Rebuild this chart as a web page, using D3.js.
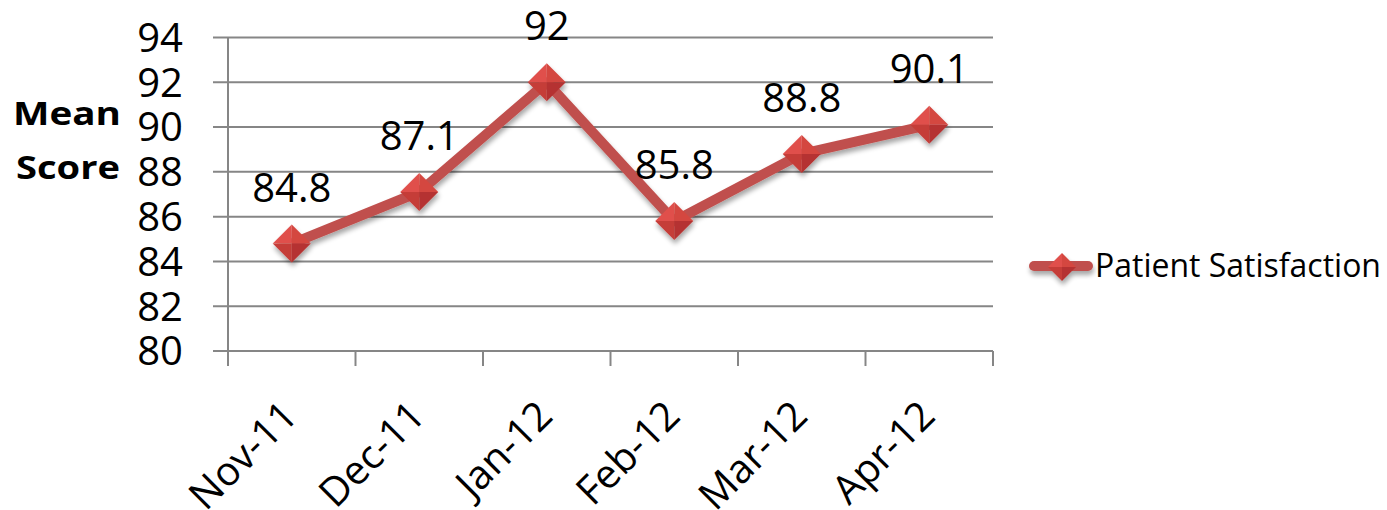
<!DOCTYPE html>
<html>
<head>
<meta charset="utf-8">
<title>Patient Satisfaction</title>
<script src="https://d3js.org/d3.v7.min.js"></script>
<style>
  body { margin: 0; background: #fff; }
  text { font-family: "Open Sans", sans-serif; fill: #000; }
</style>
</head>
<body>
<svg id="chart" width="1387" height="510"></svg>
<script>
// chart data
var months = ["Nov-11", "Dec-11", "Jan-12", "Feb-12", "Mar-12", "Apr-12"];
var scores = [84.8, 87.1, 92, 85.8, 88.8, 90.1];
var yTicks = [80, 82, 84, 86, 88, 90, 92, 94];
var seriesName = "Patient Satisfaction";

var svg = d3.select("#chart");
var gridColor = "#868686";
var lineColor = "#c0504d";

var x = d3.scaleBand().domain(months).range([228, 993]);
var y = d3.scaleLinear().domain([80, 94]).range([351, 37.5]);

// shadow filter for line + markers
var defs = svg.append("defs");
var f = defs.append("filter").attr("id", "shadow")
  .attr("x", "-20%").attr("y", "-20%").attr("width", "140%").attr("height", "160%");
f.append("feGaussianBlur").attr("in", "SourceAlpha").attr("stdDeviation", 2.5).attr("result", "b");
f.append("feOffset").attr("in", "b").attr("dx", 1).attr("dy", 4).attr("result", "o");
f.append("feComponentTransfer").attr("in", "o").attr("result", "s")
  .append("feFuncA").attr("type", "linear").attr("slope", 0.35);
var m = f.append("feMerge");
m.append("feMergeNode").attr("in", "s");
m.append("feMergeNode").attr("in", "SourceGraphic");

// gridlines (with outward tick)
svg.append("g").selectAll("line").data(yTicks).join("line")
  .attr("x1", 213).attr("x2", 993)
  .attr("y1", d => y(d)).attr("y2", d => y(d))
  .attr("stroke", gridColor).attr("stroke-width", 2);

// left axis line
svg.append("line")
  .attr("x1", 228).attr("x2", 228).attr("y1", y(94)).attr("y2", y(80) + 15)
  .attr("stroke", gridColor).attr("stroke-width", 2);

// x ticks at band edges
var edges = months.map(d => x(d)).concat([x.range()[1]]);
svg.append("g").selectAll("line").data(edges.slice(1)).join("line")
  .attr("x1", d => d).attr("x2", d => d)
  .attr("y1", y(80)).attr("y2", y(80) + 15)
  .attr("stroke", gridColor).attr("stroke-width", 2);

// y tick labels
svg.append("g").selectAll("text").data(yTicks).join("text")
  .attr("x", 183).attr("y", d => y(d)).attr("dy", "0.36em")
  .attr("text-anchor", "end").attr("font-size", 40)
  .text(d => d);

// x tick labels, rotated
var cx = d => x(d) + x.bandwidth() / 2;
svg.append("g").selectAll("text").data(months).join("text")
  .attr("transform", d => "translate(" + (cx(d) + 8) + "," + 418 + ") rotate(-45)")
  .attr("text-anchor", "end").attr("font-size", 40)
  .text(d => d);

// axis title
var title = svg.append("g").attr("font-weight", "bold").attr("font-size", 33);
title.append("text").attr("x", 13).attr("y", 125)
  .attr("textLength", 108).attr("lengthAdjust", "spacingAndGlyphs").text("Mean");
title.append("text").attr("x", 16).attr("y", 179)
  .attr("textLength", 104).attr("lengthAdjust", "spacingAndGlyphs").text("Score");

// diamond marker drawn as four facets
function diamond(g, r) {
  var facets = [
    { p: [[0, 0], [-r, 0], [0, -r]], c: "#e0504c" },
    { p: [[0, 0], [0, -r], [r, 0]], c: "#d4463f" },
    { p: [[0, 0], [-r, 0], [0, r]], c: "#c53d39" },
    { p: [[0, 0], [r, 0], [0, r]], c: "#b53330" }
  ];
  g.selectAll("path").data(facets).join("path")
    .attr("d", d => "M" + d.p.join("L") + "Z")
    .attr("fill", d => d.c);
}

var pts = months.map((d, i) => [cx(d), y(scores[i])]);
var series = svg.append("g").attr("filter", "url(#shadow)");
series.append("path")
  .attr("d", d3.line()(pts))
  .attr("fill", "none").attr("stroke", lineColor)
  .attr("stroke-width", 10).attr("stroke-linejoin", "round");
series.selectAll("g.mk").data(pts).join("g").attr("class", "mk")
  .attr("transform", d => "translate(" + d[0] + "," + d[1] + ")")
  .each(function() { diamond(d3.select(this), 19); });

// data labels
svg.append("g").selectAll("text").data(scores).join("text")
  .attr("x", (d, i) => cx(months[i])).attr("y", d => y(d) - 42)
  .attr("text-anchor", "middle").attr("font-size", 40)
  .text(d => d);

// legend
var lg = svg.append("g").attr("transform", "translate(0,266)");
var lgs = lg.append("g").attr("filter", "url(#shadow)");
lgs.append("line").attr("x1", 1034).attr("x2", 1088).attr("y1", 0).attr("y2", 0)
  .attr("stroke", lineColor).attr("stroke-width", 10).attr("stroke-linecap", "round");
var lm = lgs.append("g").attr("transform", "translate(1062,1)");
diamond(lm, 14);
lg.append("text").attr("x", 1095).attr("y", 11).attr("font-size", 33)
  .attr("textLength", 286).attr("lengthAdjust", "spacingAndGlyphs")
  .text(seriesName);
</script>
</body>
</html>
